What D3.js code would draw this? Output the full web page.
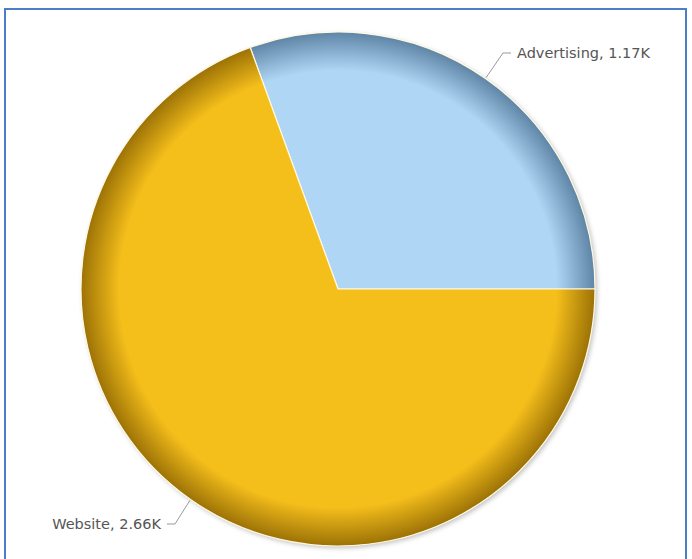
<!DOCTYPE html>
<html>
<head>
<meta charset="utf-8">
<script src="https://cdn.jsdelivr.net/npm/d3@7"></script>
<style>
	body { margin: 0; background: #fff; }
	svg { display: block; }
</style>
</head>
<body>
<svg width="692" height="559"></svg>
<script>
// chart data
var categories = ['Advertising', 'Website'];
var values = [1.17, 2.66];
var valueLabels = ['1.17K', '2.66K'];
var colors = ['#afd7f5', '#f5bf1b'];
var rimColors = ['#5f85a6', '#9c7206'];

var svg = d3.select('svg');

// blue frame
svg.append('rect')
	.attr('x', 5).attr('y', 9)
	.attr('width', 681).attr('height', 560)
	.attr('fill', 'none')
	.attr('stroke', '#4a7ec6')
	.attr('stroke-width', 2);

var cx = 338, cy = 289, r = 257;
var defs = svg.append('defs');

// gradients live in the pie group's coordinates (centre at 0,0)
categories.forEach(function(c, i){
	var g = defs.append('radialGradient')
		.attr('id', 'grad' + i)
		.attr('gradientUnits', 'userSpaceOnUse')
		.attr('cx', 0).attr('cy', 0).attr('r', r);
	g.append('stop').attr('offset', '0%').attr('stop-color', colors[i]);
	g.append('stop').attr('offset', '85%').attr('stop-color', colors[i]);
	g.append('stop').attr('offset', '100%').attr('stop-color', rimColors[i]);
});

var shadow = defs.append('filter').attr('id', 'shadow')
	.attr('x', '-10%').attr('y', '-10%').attr('width', '120%').attr('height', '120%');
shadow.append('feGaussianBlur').attr('in', 'SourceAlpha').attr('stdDeviation', 2.5);
shadow.append('feOffset').attr('dx', 2).attr('dy', 2).attr('result', 'blur');
shadow.append('feComponentTransfer').append('feFuncA').attr('type', 'linear').attr('slope', 0.25);
var merge = shadow.append('feMerge');
merge.append('feMergeNode');
merge.append('feMergeNode').attr('in', 'SourceGraphic');

var total = d3.sum(values);
var startA = Math.PI / 2 - values[0] / total * 2 * Math.PI;

var pie = d3.pie().sort(null)
	.startAngle(startA)
	.endAngle(startA + 2 * Math.PI);
var arcs = pie(values);

var arc = d3.arc().innerRadius(0).outerRadius(r);

var chart = svg.append('g').attr('transform', 'translate(' + cx + ',' + cy + ')');

chart.append('circle').attr('r', r).attr('fill', '#fff').attr('filter', 'url(#shadow)');

chart.selectAll('path.slice')
	.data(arcs)
	.enter().append('path')
	.attr('class', 'slice')
	.attr('d', arc)
	.attr('fill', function(d, i){ return 'url(#grad' + i + ')'; })
	.attr('stroke', '#fff8e0')
	.attr('stroke-width', 1.2);

// labels with leader lines
var labelSpec = [
	{ elbow: [503, 53], dir: 1 },
	{ elbow: [175, 524], dir: -1 }
];

arcs.forEach(function(d, i){
	var mid = (d.startAngle + d.endAngle) / 2;
	var px = cx + Math.sin(mid) * (r + 1);
	var py = cy - Math.cos(mid) * (r + 1);
	var s = labelSpec[i];
	var ex = s.elbow[0], ey = s.elbow[1];
	var hx = ex + s.dir * 8;
	svg.append('path')
		.attr('d', 'M' + px + ',' + py + 'L' + ex + ',' + ey + 'L' + hx + ',' + ey)
		.attr('fill', 'none')
		.attr('stroke', '#999')
		.attr('stroke-width', 1);
	svg.append('text')
		.attr('x', hx + s.dir * 6)
		.attr('y', ey)
		.attr('dy', '0.35em')
		.attr('text-anchor', s.dir > 0 ? 'start' : 'end')
		.attr('font-family', 'DejaVu Sans, Verdana, sans-serif')
		.attr('font-size', 14.5)
		.attr('fill', '#555')
		.text(categories[i] + ', ' + valueLabels[i]);
});
</script>
</body>
</html>
